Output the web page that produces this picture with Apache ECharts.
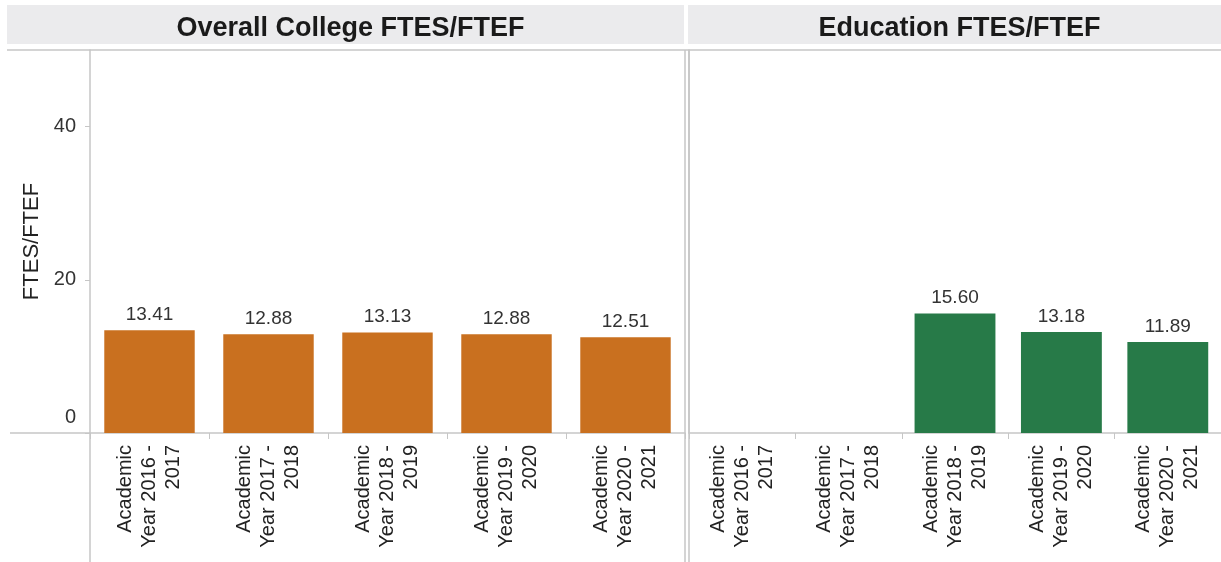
<!DOCTYPE html>
<html>
<head>
<meta charset="utf-8">
<title>FTES/FTEF</title>
<script src="https://cdn.jsdelivr.net/npm/echarts@6/dist/echarts.min.js"></script>
<style>
  html, body { margin: 0; padding: 0; background: #ffffff; }
  #chart { width: 1221px; height: 562px; }
</style>
</head>
<body>
<div id="chart"></div>
<script>
// Academic years shown on both panels
const years = ['2016 - 2017', '2017 - 2018', '2018 - 2019', '2019 - 2020', '2020 - 2021'];
const categories = years.map(y => 'Academic Year ' + y);

// FTES/FTEF ratios
const overallCollege = [13.41, 12.88, 13.13, 12.88, 12.51];
const education = [null, null, 15.60, 13.18, 11.89];

// Value axis
const yTicks = [0, 20, 40];
const yMax = 50;

const panelTitles = ['Overall College FTES/FTEF', 'Education FTES/FTEF'];

const FONT = '"Liberation Sans", Arial, Helvetica, sans-serif';
const AXIS_GREY = '#c6c6c6';
const W = 1221, H = 562;

// panel layout
const plotTop = 50, plotBottom = 433;
const leftPanel = { x0: 90, x1: 685 };
const rightPanel = { x0: 689, x1: 1221 };

function wrapCategory(name) {
  // "Academic Year 2016 - 2017" -> "Academic\nYear 2016 -\n2017"
  const m = name.match(/^(\S+) (Year \d{4} -) (\d{4})$/);
  return m ? m[1] + '\n' + m[2] + '\n' + m[3] : name;
}

const chart = echarts.init(document.getElementById('chart'), null, { renderer: 'canvas' });

const xAxisCommon = {
  type: 'category',
  data: categories,
  axisLine: { show: true, lineStyle: { color: AXIS_GREY, width: 1.5 } },
  axisTick: { show: true, length: 6, alignWithLabel: false, lineStyle: { color: AXIS_GREY } },
  axisLabel: {
    rotate: 90,
    margin: 12,
    interval: 0,
    fontFamily: FONT,
    fontSize: 20,
    lineHeight: 24,
    color: '#222',
    formatter: wrapCategory
  }
};

const yAxisCommon = {
  type: 'value',
  min: 0,
  max: yMax,
  splitLine: { show: false },
  axisLine: { show: true, lineStyle: { color: AXIS_GREY, width: 1.5 } }
};

const labelStyle = {
  show: true,
  position: 'top',
  distance: 6,
  fontFamily: FONT,
  fontSize: 19,
  color: '#333',
  formatter: p => (p.value == null ? '' : Number(p.value).toFixed(2))
};

const line = (x1, y1, x2, y2) => ({
  type: 'line',
  silent: true,
  shape: { x1, y1, x2, y2 },
  style: { stroke: AXIS_GREY, lineWidth: 1.5 }
});

const titleStyle = { fontFamily: FONT, fontSize: 27, fontWeight: 'bold', color: '#1a1a1a' };

chart.setOption({
  animation: false,
  backgroundColor: '#ffffff',
  title: [
    { text: panelTitles[0], left: (7 + 684) / 2, top: 10, textAlign: 'center', textStyle: titleStyle },
    { text: panelTitles[1], left: (688 + W) / 2, top: 10, textAlign: 'center', textStyle: titleStyle }
  ],
  graphic: [
    // header bands
    { type: 'rect', silent: true, z: -1, shape: { x: 7, y: 5, width: 677, height: 39 }, style: { fill: '#ebebed' } },
    { type: 'rect', silent: true, z: -1, shape: { x: 688, y: 5, width: W - 688, height: 39 }, style: { fill: '#ebebed' } },
    // frame lines around the panels
    line(7, plotTop, W, plotTop),
    line(leftPanel.x0, plotBottom, leftPanel.x0, H),
    line(leftPanel.x1, plotTop, leftPanel.x1, H),
    line(rightPanel.x0, plotTop, rightPanel.x0, H),
    line(10, plotBottom, leftPanel.x0, plotBottom)
  ],
  grid: [
    { left: leftPanel.x0, right: W - leftPanel.x1, top: plotTop, bottom: H - plotBottom, containLabel: false },
    { left: rightPanel.x0, right: W - rightPanel.x1, top: plotTop, bottom: H - plotBottom, containLabel: false }
  ],
  xAxis: [
    Object.assign({ gridIndex: 0 }, xAxisCommon),
    Object.assign({ gridIndex: 1 }, xAxisCommon)
  ],
  yAxis: [
    Object.assign({}, yAxisCommon, {
      gridIndex: 0,
      name: 'FTES/FTEF',
      nameLocation: 'middle',
      nameGap: 47,
      nameTextStyle: { fontFamily: FONT, fontSize: 22, color: '#222' },
      axisTick: { show: true, length: 5, customValues: yTicks, lineStyle: { color: AXIS_GREY } },
      axisLabel: {
        show: true,
        margin: 14,
        customValues: yTicks,
        fontFamily: FONT,
        fontSize: 20,
        color: '#333',
        // the zero label sits just above the baseline
        formatter: v => (v === 0 ? '{z|0}\n{pad| }' : String(v)),
        rich: {
          z: { fontFamily: FONT, fontSize: 20, color: '#333', lineHeight: 20 },
          pad: { fontSize: 10, lineHeight: 32, height: 32 }
        }
      }
    }),
    Object.assign({}, yAxisCommon, {
      gridIndex: 1,
      axisTick: { show: false },
      axisLabel: { show: false }
    })
  ],
  series: [
    {
      type: 'bar',
      xAxisIndex: 0,
      yAxisIndex: 0,
      data: overallCollege,
      barCategoryGap: '24%',
      itemStyle: { color: '#c9701f' },
      label: labelStyle
    },
    {
      type: 'bar',
      xAxisIndex: 1,
      yAxisIndex: 1,
      data: education,
      barCategoryGap: '24%',
      itemStyle: { color: '#277a48' },
      label: labelStyle
    }
  ]
});
</script>
</body>
</html>
